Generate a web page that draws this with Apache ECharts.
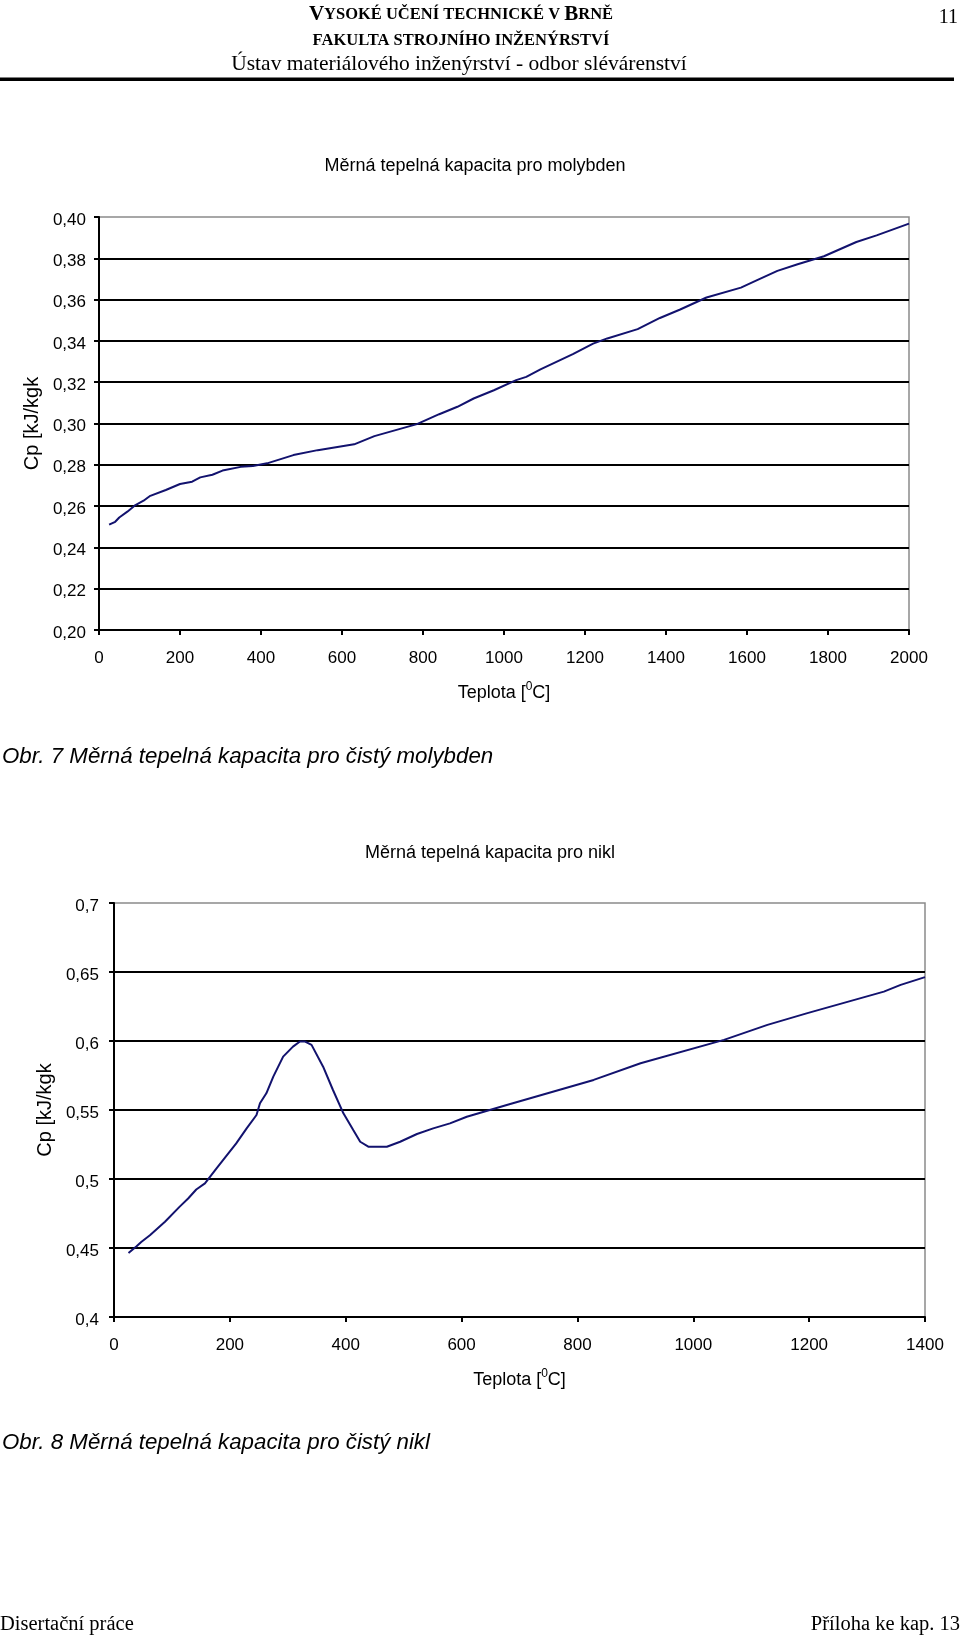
<!DOCTYPE html>
<html><head><meta charset="utf-8">
<script src="https://cdn.jsdelivr.net/npm/echarts@6/dist/echarts.min.js"></script>
<style>html,body{margin:0;padding:0;background:#fff}#c{width:960px;height:1635px}</style>
</head><body><div id="c"></div>
<script>
// Molybden
const moTemp = [25, 40, 50, 70, 90, 110, 125, 165, 200, 230, 250, 280, 305, 350, 380, 415, 480, 540, 630, 680, 785, 840, 885, 925, 975, 1030, 1055, 1090, 1170, 1220, 1255, 1330, 1385, 1435, 1500, 1585, 1625, 1675, 1725, 1790, 1870, 1920, 2000];
const moCp = [0.2510, 0.2524, 0.2545, 0.2573, 0.2605, 0.2626, 0.2648, 0.2678, 0.2707, 0.2718, 0.2739, 0.2752, 0.2772, 0.2790, 0.2794, 0.2807, 0.2847, 0.2871, 0.2899, 0.2939, 0.2997, 0.3045, 0.3081, 0.3121, 0.3161, 0.3210, 0.3226, 0.3262, 0.3336, 0.3387, 0.3412, 0.3457, 0.3511, 0.3552, 0.3610, 0.3658, 0.3694, 0.3739, 0.3771, 0.3810, 0.3879, 0.3911, 0.3968];
// Nikl
const niTemp = [25, 39, 47, 62, 88, 113, 128, 142, 157, 177, 211, 229, 246, 252, 263, 275, 292, 309, 321, 330, 341, 361, 378, 396, 413, 425, 439, 471, 494, 523, 551, 580, 609, 678, 828, 909, 1053, 1128, 1197, 1329, 1358, 1400];
const niCp = [0.4464, 0.4513, 0.4544, 0.4593, 0.4690, 0.4798, 0.4859, 0.4924, 0.4968, 0.5077, 0.5258, 0.5367, 0.5464, 0.5549, 0.5621, 0.5742, 0.5887, 0.5959, 0.5996, 0.5996, 0.5972, 0.5814, 0.5645, 0.5476, 0.5355, 0.5270, 0.5234, 0.5234, 0.5270, 0.5326, 0.5367, 0.5403, 0.5451, 0.5536, 0.5718, 0.5839, 0.6008, 0.6117, 0.6202, 0.6358, 0.6407, 0.6463];
// Tick labels
const moXTicks = ['0', '200', '400', '600', '800', '1000', '1200', '1400', '1600', '1800', '2000'];
const moYTicks = ['0,20', '0,22', '0,24', '0,26', '0,28', '0,30', '0,32', '0,34', '0,36', '0,38', '0,40'];
const niXTicks = ['0', '200', '400', '600', '800', '1000', '1200', '1400'];
const niYTicks = ['0,4', '0,45', '0,5', '0,55', '0,6', '0,65', '0,7'];

const SANS = '"Liberation Sans", Arial, sans-serif';
const SERIF = '"Liberation Serif", "Times New Roman", serif';
const LINE = '#12126e';

const chart = echarts.init(document.getElementById('c'), null, {renderer: 'canvas'});

function xAxisCfg(grid, max, ticks) {
  return {
    gridIndex: grid, type: 'value', min: 0, max: max, interval: 200,
    axisLine: {show: true, onZero: false, lineStyle: {color: '#000', width: 2}},
    axisTick: {show: true, length: 5, lineStyle: {color: '#000', width: 2}},
    splitLine: {show: false},
    axisLabel: {margin: 20, fontSize: 17, color: '#000', fontFamily: SANS,
      formatter: (v, i) => ticks[i]},
    name: '{t|Teplota [}{s|0}{t|C]}', nameLocation: 'middle', nameGap: 51,
    nameTextStyle: {color: '#000', fontFamily: SANS, fontSize: 18,
      rich: {t: {fontSize: 18, lineHeight: 21, verticalAlign: 'bottom', fontFamily: SANS, color: '#000'},
             s: {fontSize: 12, lineHeight: 12, verticalAlign: 'top', fontFamily: SANS, color: '#000'}}}
  };
}
function yAxisCfg(grid, min, max, step, ticks, margin, gap) {
  return {
    gridIndex: grid, type: 'value', min: min, max: max, interval: step,
    axisLine: {show: true, onZero: false, lineStyle: {color: '#000', width: 2}},
    axisTick: {show: true, length: 5, lineStyle: {color: '#000', width: 2}},
    splitLine: {show: true, showMaxLine: false, lineStyle: {color: '#000', width: 2}},
    axisLabel: {margin: margin, fontSize: 17, color: '#000', fontFamily: SANS,
      formatter: (v, i) => '{d|' + ticks[i] + '}',
      rich: {d: {fontSize: 17, fontFamily: SANS, color: '#000', padding: [6, 0, 0, 0]}}},
    name: 'Cp [kJ/kgk', nameLocation: 'middle', nameGap: gap, nameRotate: 90,
    nameTextStyle: {color: '#000', fontFamily: SANS, fontSize: 20}
  };
}

const moData = moTemp.map((t, i) => [t, moCp[i]]);
const niData = niTemp.map((t, i) => [t, niCp[i]]);

function txt(x, y, text, size, opts) {
  opts = opts || {};
  return {
    type: 'text', x: x, y: y, silent: true,
    style: Object.assign({
      text: text, fill: '#000', fontSize: size, fontFamily: opts.family || SANS,
      fontWeight: opts.weight || 'normal', fontStyle: opts.style || 'normal',
      align: opts.align || 'left', textAlign: opts.align || 'left',
      verticalAlign: 'middle', textVerticalAlign: 'middle'
    }, opts.extra || {})
  };
}

chart.setOption({
  backgroundColor: '#fff',
  animation: false,
  grid: [
    {left: 99, top: 217, width: 810, height: 413, show: true, borderColor: '#8a8a8a', borderWidth: 1.5, containLabel: false},
    {left: 114, top: 903, width: 811, height: 414, show: true, borderColor: '#8a8a8a', borderWidth: 1.5, containLabel: false}
  ],
  xAxis: [xAxisCfg(0, 2000, moXTicks), xAxisCfg(1, 1400, niXTicks)],
  yAxis: [yAxisCfg(0, 0.2, 0.4, 0.02, moYTicks, 13, 56), yAxisCfg(1, 0.4, 0.7, 0.05, niYTicks, 15, 56)],
  series: [
    {type: 'line', xAxisIndex: 0, yAxisIndex: 0, data: moData, showSymbol: false, symbol: 'none',
     lineStyle: {color: LINE, width: 2}, smooth: false},
    {type: 'line', xAxisIndex: 1, yAxisIndex: 1, data: niData, showSymbol: false, symbol: 'none',
     lineStyle: {color: LINE, width: 2}, smooth: false}
  ],
  graphic: [
    txt(461, 15, '{b|V}{s|YSOKÉ UČENÍ TECHNICKÉ V }{b|B}{s|RNĚ}', 17, {family: SERIF, weight: 'bold', align: 'center',
      extra: {rich: {b: {fontSize: 21, fontFamily: SERIF, fontWeight: 'bold', fill: '#000'},
                     s: {fontSize: 16.5, fontFamily: SERIF, fontWeight: 'bold', fill: '#000'}}}}),
    txt(461, 40.5, 'FAKULTA STROJNÍHO INŽENÝRSTVÍ', 16.5, {family: SERIF, weight: 'bold', align: 'center'}),
    txt(459, 64, 'Ústav materiálového inženýrství - odbor slévárenství', 21.5, {family: SERIF, align: 'center'}),
    txt(958, 18, '11', 20, {family: SERIF, align: 'right'}),
    {type: 'rect', silent: true, shape: {x: 0, y: 77.5, width: 954, height: 3.5}, style: {fill: '#000'}},
    txt(475, 166, 'Měrná tepelná kapacita pro molybden', 18, {align: 'center'}),
    txt(2, 757, 'Obr. 7 Měrná tepelná kapacita pro čistý molybden', 22.3, {style: 'italic'}),
    txt(490, 853, 'Měrná tepelná kapacita pro nikl', 18, {align: 'center'}),
    txt(2, 1443, 'Obr. 8 Měrná tepelná kapacita pro čistý nikl', 22.3, {style: 'italic'}),
    txt(0, 1625, 'Disertační práce', 20.5, {family: SERIF}),
    txt(960, 1625, 'Příloha ke kap. 13', 20.5, {family: SERIF, align: 'right'})
  ]
});
</script>
</body></html>
